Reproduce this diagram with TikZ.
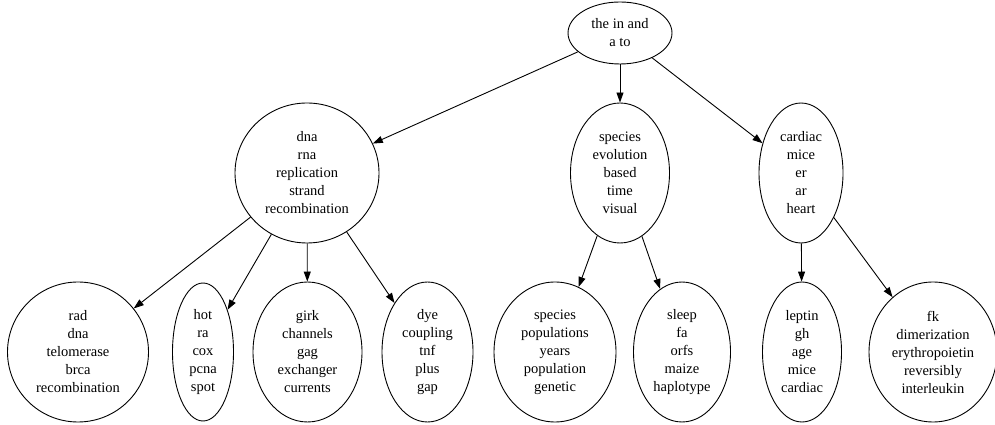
\documentclass[tikz,border=0pt]{standalone}
\usepackage{fontspec}
\setmainfont{Liberation Serif}
\usetikzlibrary{shapes.geometric,arrows.meta}
\begin{document}
\begin{tikzpicture}[x=1pt,y=1pt,
  topic/.style={ellipse,draw,line width=0.9pt,inner sep=0pt,align=center,
    font=\fontsize{14.5}{18}\selectfont},
  link/.style={line width=0.9pt,-{Triangle[length=10pt,width=7pt]}}]
\useasboundingbox (0,0) rectangle (995,425);
\node[topic,minimum width=104pt,minimum height=62pt] (root) at (620,392) {the in and\\a to};
\node[topic,minimum width=144pt,minimum height=140pt] (dna) at (307,252) {dna\\rna\\replication\\strand\\recombination};
\node[topic,minimum width=99pt,minimum height=140pt] (spec) at (620,252) {species\\evolution\\based\\time\\visual};
\node[topic,minimum width=84pt,minimum height=140pt] (card) at (801,252) {cardiac\\mice\\er\\ar\\heart};
\node[topic,minimum width=141pt,minimum height=140pt] (rad) at (78,73) {rad\\dna\\telomerase\\brca\\recombination};
\node[topic,minimum width=61pt,minimum height=138pt] (hot) at (203,73) {hot\\ra\\cox\\pcna\\spot};
\node[topic,minimum width=109pt,minimum height=140pt] (girk) at (307.5,73) {girk\\channels\\gag\\exchanger\\currents};
\node[topic,minimum width=91pt,minimum height=140pt] (dye) at (427.5,73) {dye\\coupling\\tnf\\plus\\gap};
\node[topic,minimum width=122pt,minimum height=140pt] (pop) at (555,73) {species\\populations\\years\\population\\genetic};
\node[topic,minimum width=97pt,minimum height=140pt] (sleep) at (682,73) {sleep\\fa\\orfs\\maize\\haplotype};
\node[topic,minimum width=79pt,minimum height=140pt] (leptin) at (802,73) {leptin\\gh\\age\\mice\\cardiac};
\node[topic,minimum width=128pt,minimum height=140pt] (fk) at (933,73) {fk\\dimerization\\erythropoietin\\reversibly\\interleukin};
\draw[link] (root) -- (dna);
\draw[link] (root) -- (spec);
\draw[link] (root) -- (card);
\draw[link] (dna) -- (rad);
\draw[link] (dna) -- (hot);
\draw[link] (dna) -- (girk);
\draw[link] (dna) -- (dye);
\draw[link] (spec) -- (pop);
\draw[link] (spec) -- (sleep);
\draw[link] (card) -- (leptin);
\draw[link] (card) -- (fk);
\end{tikzpicture}
\end{document}
